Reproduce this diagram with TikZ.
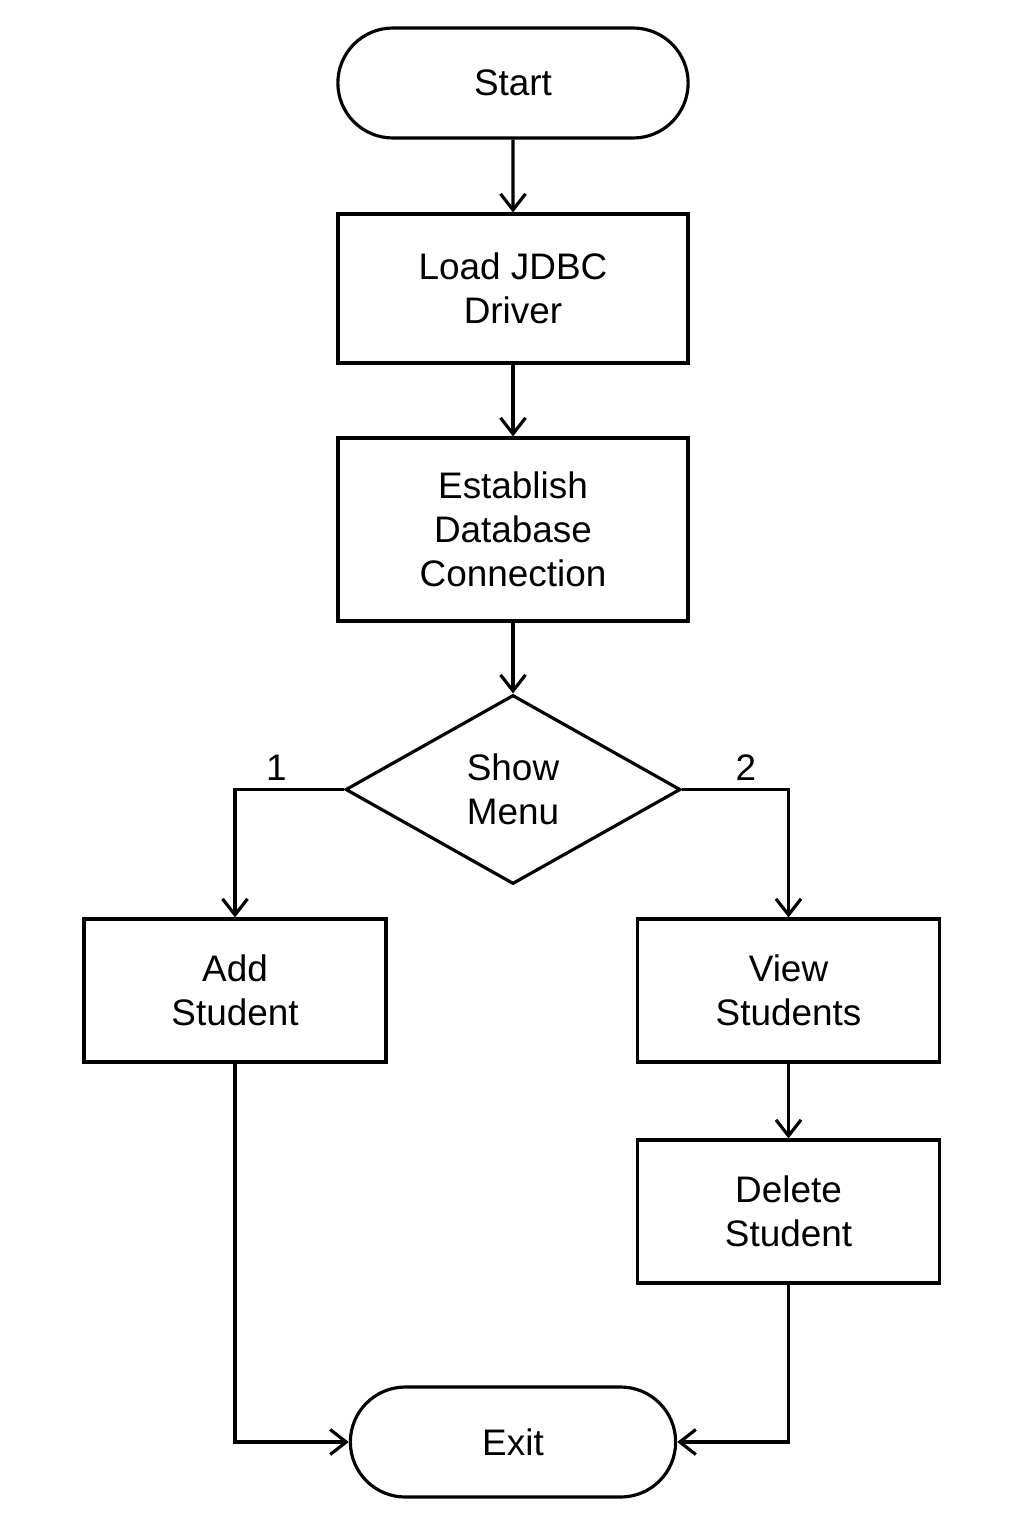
\documentclass[tikz,border=0pt]{standalone}
\usepackage{fontspec}
\setmainfont{Liberation Sans}
\usetikzlibrary{arrows.meta,positioning,shapes.geometric,shapes.misc}
\tikzset{
  >={Straight Barb[length=3.2mm,width=5mm,line width=1.8pt]},
  every node/.style={font=\fontsize{21}{25}\selectfont},
  proc/.style={draw,line width=1.8pt,rectangle,minimum width=#1,align=center,inner sep=0pt},
  proc/.default=7cm,
  term/.style={draw,line width=1.8pt,rounded rectangle,minimum height=2.2cm,align=center},
  choice/.style={draw,line width=1.8pt,diamond,aspect=1.77,inner sep=0pt,
    minimum width=6.7cm,minimum height=3.78cm,align=center},
  flow/.style={->,line width=1.8pt},
  tag/.style={above=1pt},
}
\begin{document}
\begin{tikzpicture}
  \useasboundingbox (0,0) rectangle (20.48,-30.72);
  % main column
  \node[term,minimum width=7.24cm] (start) at (10.26,-1.66) {Start};
  \node[proc,minimum height=2.98cm] (load) at (10.26,-5.77) {Load JDBC\\Driver};
  \node[proc,minimum height=3.66cm] (conn) at (10.26,-10.59) {Establish\\Database\\Connection};
  \node[choice] (menu) at (10.26,-15.79) {Show\\Menu};
  % branches
  \node[proc=6.04cm,minimum height=2.86cm] (add) at (4.70,-19.81) {Add\\Student};
  \node[proc=6.04cm,minimum height=2.86cm] (view) at (15.77,-19.81) {View\\Students};
  \node[proc=6.04cm,minimum height=2.86cm] (del) at (15.77,-24.23) {Delete\\Student};
  \node[term,minimum width=6.74cm] (exit) at (10.26,-28.84) {Exit};

  \draw[flow] (start) -- (load);
  \draw[flow] (load) -- (conn);
  \draw[flow] (conn) -- (menu);
  \draw[flow] (menu.west) -| node[tag,pos=0.31] {1} (add.north);
  \draw[flow] (menu.east) -| node[tag,pos=0.30] {2} (view.north);
  \draw[flow] (view) -- (del);
  \draw[flow] (add.south) |- (exit.west);
  \draw[flow] (del.south) |- (exit.east);
\end{tikzpicture}
\end{document}
